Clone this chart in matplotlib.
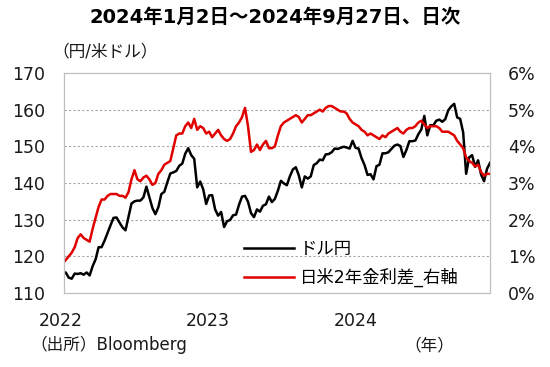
import pandas as pd
import matplotlib
matplotlib.use("Agg")
import matplotlib.pyplot as plt

plt.rcParams['font.family'] = ['DejaVu Sans', 'Noto Sans CJK JP']

title = "2024年1月2日～2024年9月27日、日次"
left_unit = "（円/米ドル）"
source = "（出所）Bloomberg"
year_unit = "（年）"
name_fx = "ドル円"
name_spread = "日米2年金利差_右軸"
year_labels = ["2022", "2023", "2024"]

# weekly (Fri) closes, first point = 2022-01-03
usdjpy_2022 = [115.5,
               115.6, 114.2, 113.9, 115.3,
               115.2, 115.4, 115.0, 115.6,
               114.8, 117.3, 119.2, 122.5,
               122.5, 124.3, 126.4, 128.5, 130.5,
               130.6, 129.2, 127.9, 127.1,
               130.8, 134.4, 135.0, 135.2,
               135.2, 136.1, 139.0, 136.1, 133.2,
               131.5, 133.4, 137.0, 137.6,
               140.2, 142.6, 142.9, 143.3, 144.7,
               145.3, 148.0, 149.5, 147.6,
               146.6, 138.8, 140.4, 138.3,
               134.3, 136.6, 136.7, 132.8, 131.1]
usdjpy_2023 = [132.1, 128.0, 129.6, 129.9,
               131.2, 131.4, 134.1, 136.3,
               136.5, 134.9, 131.8, 130.7, 132.8,
               132.2, 133.8, 134.2, 136.3,
               134.8, 135.7, 137.9, 140.6,
               139.9, 139.4, 141.8, 143.7, 144.3,
               142.1, 138.8, 141.8, 141.2,
               141.8, 144.9, 145.4, 146.4,
               146.2, 147.8, 147.9, 148.4, 149.4,
               149.3, 149.6, 149.9, 149.7,
               149.4, 151.5, 149.6, 149.4,
               146.8, 144.9, 142.2, 142.4, 141.0]
usdjpy_2024 = [144.6, 145.0, 148.1, 148.1,
               148.4, 149.3, 150.2, 150.5,
               150.1, 147.1, 149.0, 151.4, 151.4,
               151.6, 153.3, 154.6, 158.3,
               153.0, 155.8, 155.7, 157.0, 157.3,
               156.7, 157.4, 159.8, 160.9,
               161.6, 157.9, 157.5, 153.8,
               142.5, 147.0, 147.6, 144.4, 146.2,
               142.3, 140.5, 143.9, 145.5]

spread_2022 = [0.85,
               0.90, 1.00, 1.10, 1.25,
               1.50, 1.60, 1.50, 1.45,
               1.40, 1.75, 2.05, 2.35,
               2.55, 2.55, 2.65, 2.70, 2.70,
               2.70, 2.65, 2.65, 2.60,
               2.75, 3.10, 3.35, 3.10,
               3.05, 3.15, 3.20, 3.10, 2.95,
               3.00, 3.25, 3.35, 3.50,
               3.55, 3.60, 3.95, 4.30, 4.35,
               4.35, 4.55, 4.65, 4.50,
               4.75, 4.45, 4.55, 4.50,
               4.35, 4.40, 4.25, 4.35, 4.45]
spread_2023 = [4.30, 4.20, 4.15, 4.20,
               4.35, 4.55, 4.65, 4.80,
               5.05, 4.55, 3.85, 3.90, 4.05,
               3.90, 4.05, 4.15, 3.95,
               3.95, 4.00, 4.30, 4.55,
               4.65, 4.70, 4.75, 4.80, 4.85,
               4.80, 4.65, 4.75, 4.85,
               4.85, 4.90, 4.95, 5.00,
               4.95, 5.05, 5.10, 5.10, 5.05,
               5.00, 4.95, 4.95, 4.90,
               4.75, 4.65, 4.60, 4.55,
               4.45, 4.40, 4.30, 4.35, 4.30]
spread_2024 = [4.25, 4.20, 4.30, 4.25,
               4.35, 4.40, 4.45, 4.50,
               4.40, 4.35, 4.45, 4.50, 4.50,
               4.55, 4.65, 4.70, 4.60,
               4.50, 4.55, 4.55, 4.55, 4.50,
               4.40, 4.40, 4.40, 4.35,
               4.30, 4.15, 4.05, 3.95,
               3.70, 3.60, 3.55, 3.45, 3.50,
               3.30, 3.20, 3.25, 3.25]

dates = (pd.DatetimeIndex(["2022-01-03"])
         .append(pd.date_range("2022-01-07", "2022-12-30", freq="W-FRI"))
         .append(pd.date_range("2023-01-06", "2023-12-29", freq="W-FRI"))
         .append(pd.date_range("2024-01-05", "2024-09-27", freq="W-FRI")))
usdjpy = usdjpy_2022 + usdjpy_2023 + usdjpy_2024
spread = spread_2022 + spread_2023 + spread_2024

fig = plt.figure(figsize=(5.5, 3.67), dpi=100)
ax = fig.add_axes([0.1164, 0.2016, 0.7746, 0.5994])
ax2 = ax.twinx()

l1, = ax.plot(dates, usdjpy, color="black", lw=1.8, label=name_fx)
l2, = ax2.plot(dates, spread, color="#E00000", lw=1.8, label=name_spread)

ax.set_xlim(dates[0], dates[-1])
ax.set_ylim(110, 170)
ax.set_yticks(range(110, 171, 10))
ax2.set_ylim(0, 6)
ax2.set_yticks(range(0, 7))
ax2.set_yticklabels([f"{v}%" for v in range(0, 7)])
ax.set_xticks([])

for a in (ax, ax2):
    a.tick_params(length=0, labelsize=12.5, colors="#1a1a1a")
    for s in a.spines.values():
        s.set_color("#BFBFBF")
        s.set_linewidth(0.8)
ax.tick_params(axis="y", pad=13.5)
ax2.tick_params(axis="y", pad=13)

for v in range(120, 170, 10):
    ax.axhline(v, color="#A6A6A6", lw=0.8, ls=(0, (2, 2)), zorder=0)

for lab, fx in zip(year_labels, [-0.007, 0.338, 0.685]):
    ax.text(fx, -0.125, lab, transform=ax.transAxes, ha="center", va="center",
            fontsize=12.5, color="#1a1a1a")

ax.legend([l1, l2], [name_fx, name_spread], loc="lower left",
          bbox_to_anchor=(0.393, -0.03), frameon=False, fontsize=12.5,
          handlelength=2.9, handletextpad=0.35, labelspacing=0.6,
          borderaxespad=0.3)

fig.text(0.5, 0.953, title, ha="center", va="center", fontsize=14,
         fontweight="bold", color="black")
fig.text(0.095, 0.861, left_unit, ha="left", va="center", fontsize=12,
         color="#1a1a1a")
fig.text(0.055, 0.06, source, ha="left", va="center", fontsize=12,
         color="#1a1a1a")
fig.text(0.735, 0.06, year_unit, ha="left", va="center", fontsize=12,
         color="#1a1a1a")

fig.savefig("out.png", dpi=100)
